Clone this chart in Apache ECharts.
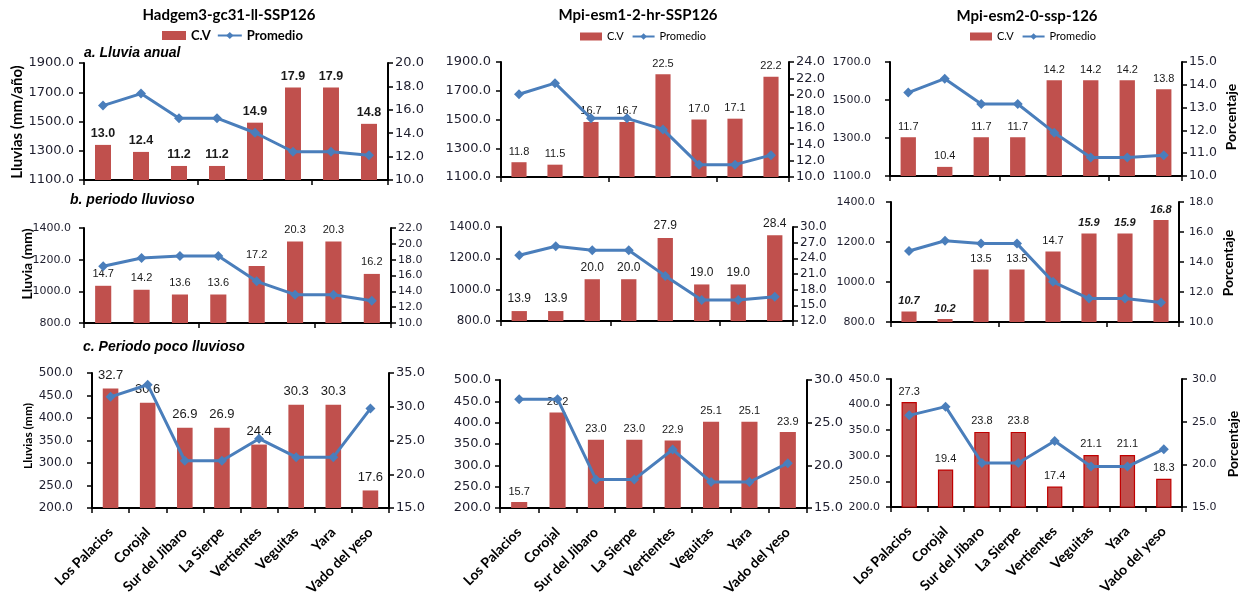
<!DOCTYPE html>
<html>
<head>
<meta charset="utf-8">
<script src="https://cdn.jsdelivr.net/npm/echarts@6/dist/echarts.min.js"></script>
<style>
  html, body { margin: 0; padding: 0; background: #fff; }
  #chart { width: 1241px; height: 604px; }
</style>
</head>
<body>
<div id="chart"></div>
<script>
// Stations shared by all nine panels
const estaciones = ['Los Palacios', 'Corojal', 'Sur del Jibaro', 'La Sierpe', 'Vertientes', 'Veguitas', 'Yara', 'Vado del yeso'];

// a. Lluvia anual
const cvAnualHadgem = [13.0, 12.4, 11.2, 11.2, 14.9, 17.9, 17.9, 14.8];
const promAnualHadgem = [1609, 1691, 1523, 1523, 1423, 1293, 1293, 1270];
const cvAnualMpi1 = [11.8, 11.5, 16.7, 16.7, 22.5, 17.0, 17.1, 22.2];
const promAnualMpi1 = [1676, 1753, 1508, 1508, 1431, 1186, 1186, 1252];
const cvAnualMpi2 = [11.7, 10.4, 11.7, 11.7, 14.2, 14.2, 14.2, 13.8];
const promAnualMpi2 = [1539, 1612, 1479, 1479, 1328, 1197, 1197, 1209];

// b. periodo lluvioso
const cvLluvHadgem = [14.7, 14.2, 13.6, 13.6, 17.2, 20.3, 20.3, 16.2];
const promLluvHadgem = [1158, 1211, 1223, 1223, 1063, 979, 979, 941];
const cvLluvMpi1 = [13.9, 13.9, 20.0, 20.0, 27.9, 19.0, 19.0, 28.4];
const promLluvMpi1 = [1220, 1277, 1252, 1252, 1088, 934, 934, 955];
const cvLluvMpi2 = [10.7, 10.2, 13.5, 13.5, 14.7, 15.9, 15.9, 16.8];
const promLluvMpi2 = [1155, 1206, 1192, 1192, 1001, 917, 917, 897];

// c. Periodo poco lluvioso
const cvSecoHadgem = [32.7, 30.6, 26.9, 26.9, 24.4, 30.3, 30.3, 17.6];
const promSecoHadgem = [447, 474, 305, 305, 354, 313, 313, 421];
const cvSecoMpi1 = [15.7, 26.2, 23.0, 23.0, 22.9, 25.1, 25.1, 23.9];
const promSecoMpi1 = [455, 455, 267, 267, 337, 261, 261, 305];
const cvSecoMpi2 = [27.3, 19.4, 23.8, 23.8, 17.4, 21.1, 21.1, 18.3];
const promSecoMpi2 = [379, 396, 286, 286, 329, 279, 279, 313];

// Axis tick values (left: mm, right: percent)
const ticksAnualL = [1100, 1300, 1500, 1700, 1900];
const ticksAnualMpi2L = [1100, 1300, 1500, 1700];
const ticksAnualHadgemR = [10, 12, 14, 16, 18, 20];
const ticksAnualMpi1R = [10, 12, 14, 16, 18, 20, 22, 24];
const ticksAnualMpi2R = [10, 11, 12, 13, 14, 15];
const ticksLluvL = [800, 1000, 1200, 1400];
const ticksLluvHadgemR = [10, 12, 14, 16, 18, 20, 22];
const ticksLluvMpi1R = [12, 15, 18, 21, 24, 27, 30];
const ticksLluvMpi2R = [10, 12, 14, 16, 18];
const ticksSecoL = [200, 250, 300, 350, 400, 450, 500];
const ticksSecoMpi2L = [200, 250, 300, 350, 400, 450];
const ticksSecoHadgemR = [15, 20, 25, 30, 35];
const ticksSecoR = [15, 20, 25, 30];

// Indices of value labels drawn in bold italic (panel b, Mpi-esm2)
const destacadosLluvMpi2 = [0, 1, 5, 6, 7];

const BAR = '#C0504D';
const LINE = '#4A7EBB';
const AXIS_TXT = '#1e1e2e';

const panels = [
  { grid: { left: 84, top: 63, width: 304, height: 117 }, cv: cvAnualHadgem, prom: promAnualHadgem,
    lt: ticksAnualL, rt: ticksAnualHadgemR, lf: 13, rf: 13, lm: 5, rm: 7, vf: 'bold', vs: 12.5, vd: 5 },
  { grid: { left: 501, top: 62, width: 288, height: 115 }, cv: cvAnualMpi1, prom: promAnualMpi1,
    lt: ticksAnualL, rt: ticksAnualMpi1R, lf: 13, rf: 13, lm: 5, rm: 7, vf: 'normal', vs: 11, vd: 5 },
  { grid: { left: 890, top: 62, width: 292, height: 114 }, cv: cvAnualMpi2, prom: promAnualMpi2,
    lt: ticksAnualMpi2L, rt: ticksAnualMpi2R, lf: 11, rf: 12.5, lm: 14, rm: 7, vf: 'normal', vs: 11, vd: 5 },
  { grid: { left: 84, top: 228, width: 307, height: 95 }, cv: cvLluvHadgem, prom: promLluvHadgem,
    lt: ticksLluvL, rt: ticksLluvHadgemR, lf: 11, rf: 11, lm: 8, rm: 7, vf: 'normal', vs: 11, vd: 6 },
  { grid: { left: 501, top: 227, width: 292, height: 94 }, cv: cvLluvMpi1, prom: promLluvMpi1,
    lt: ticksLluvL, rt: ticksLluvMpi1R, lf: 12, rf: 12, lm: 5, rm: 7, vf: 'normal', vs: 12, vd: 6 },
  { grid: { left: 891, top: 202, width: 288, height: 120 }, cv: cvLluvMpi2, prom: promLluvMpi2,
    lt: ticksLluvL, rt: ticksLluvMpi2R, lf: 11, rf: 11, lm: 11, rm: 10, vf: 'normal', vs: 11, vd: 5,
    destacados: destacadosLluvMpi2 },
  { grid: { left: 92, top: 373, width: 297, height: 135 }, cv: cvSecoHadgem, prom: promSecoHadgem,
    lt: ticksSecoL, rt: ticksSecoHadgemR, lf: 12, rf: 13, lm: 14, rm: 7, vf: 'normal', vs: 13, vd: 7, bottom: true },
  { grid: { left: 500, top: 380, width: 307, height: 128 }, cv: cvSecoMpi1, prom: promSecoMpi1,
    lt: ticksSecoL, rt: ticksSecoR, lf: 13, rf: 13, lm: 4, rm: 7, vf: 'normal', vs: 11, vd: 5, bottom: true },
  { grid: { left: 891, top: 379, width: 291, height: 128 }, cv: cvSecoMpi2, prom: promSecoMpi2,
    lt: ticksSecoMpi2L, rt: ticksSecoR, lf: 11, rf: 11, lm: 6, rm: 10, vf: 'normal', vs: 11, vd: 5, bottom: true,
    barBorder: '#C00000' }
];

const grids = [], xAxes = [], yAxes = [], series = [];

panels.forEach((p, i) => {
  grids.push(Object.assign({ containLabel: false }, p.grid));
  xAxes.push({
    type: 'category', gridIndex: i, data: estaciones, boundaryGap: true,
    axisLine: { show: true, lineStyle: { color: '#000', width: 2 } },
    axisTick: { show: true, length: 5, lineStyle: { color: '#000', width: 1.5 } },
    axisLabel: p.bottom ? {
      show: true, rotate: 45, margin: 22, interval: 0,
      fontFamily: 'Lato', fontWeight: 'bold', fontSize: 14, color: '#000'
    } : { show: false },
    splitLine: { show: false }
  });
  const lt = p.lt, rt = p.rt;
  yAxes.push({
    type: 'value', gridIndex: i, position: 'left',
    min: lt[0], max: lt[lt.length - 1],
    axisLine: { show: true, lineStyle: { color: '#000', width: 2 } },
    axisTick: { show: true, length: 5, customValues: lt, lineStyle: { color: '#000', width: 1.5 } },
    axisLabel: {
      customValues: lt, margin: p.lm + 5, fontFamily: 'DejaVu Sans', fontSize: p.lf, color: AXIS_TXT,
      formatter: v => Number(v).toFixed(1)
    },
    splitLine: { show: false }
  });
  yAxes.push({
    type: 'value', gridIndex: i, position: 'right',
    min: rt[0], max: rt[rt.length - 1],
    axisLine: { show: true, lineStyle: { color: '#000', width: 2 } },
    axisTick: { show: true, length: 5, customValues: rt, lineStyle: { color: '#000', width: 1.5 } },
    axisLabel: {
      customValues: rt, margin: p.rm, fontFamily: 'DejaVu Sans', fontSize: p.rf, color: AXIS_TXT,
      formatter: v => Number(v).toFixed(1)
    },
    splitLine: { show: false }
  });

  const dest = p.destacados || [];
  series.push({
    name: 'C.V', type: 'bar', xAxisIndex: i, yAxisIndex: 2 * i + 1,
    barWidth: '42%',
    itemStyle: p.barBorder ? { color: BAR, borderColor: p.barBorder, borderWidth: 1.2 } : { color: BAR },
    label: {
      show: true, position: 'top', distance: p.vd,
      fontFamily: 'Liberation Sans', fontSize: p.vs, fontWeight: p.vf, color: '#1a1a1a',
      formatter: q => Number(q.value).toFixed(1)
    },
    data: p.cv.map((v, k) => dest.includes(k)
      ? { value: v, label: { fontWeight: 'bold', fontStyle: 'italic' } }
      : v),
    z: 2
  });
  series.push({
    name: 'Promedio', type: 'line', xAxisIndex: i, yAxisIndex: 2 * i,
    symbol: 'diamond', symbolSize: 10,
    lineStyle: { color: LINE, width: 3 },
    itemStyle: { color: LINE },
    data: p.prom,
    z: 3
  });
});

const legendData = [{ name: 'C.V', icon: 'rect' }, { name: 'Promedio' }];
const legends = [
  { left: 162, top: 29, itemWidth: 24, itemHeight: 9, itemGap: 6,
    textStyle: { fontFamily: 'Lato', fontWeight: 'bold', fontSize: 13, color: '#000' } },
  { left: 580, top: 31, itemWidth: 22, itemHeight: 8, itemGap: 8,
    textStyle: { fontFamily: 'Lato', fontSize: 11, color: '#000' } },
  { left: 970, top: 31, itemWidth: 22, itemHeight: 8, itemGap: 8,
    textStyle: { fontFamily: 'Lato', fontSize: 11, color: '#000' } }
].map(l => Object.assign({ data: legendData, selectedMode: false, padding: 0, orient: 'horizontal' }, l));

function txt(x, y, text, font, opts) {
  return Object.assign({
    type: 'text', x: x, y: y,
    style: { text: text, font: font, fill: '#000', align: 'left', verticalAlign: 'middle' }
  }, opts || {});
}
function vtxt(x, y, text, font) {
  return {
    type: 'text', x: x, y: y, rotation: Math.PI / 2,
    style: { text: text, font: font, fill: '#000', align: 'center', verticalAlign: 'middle' }
  };
}

const graphics = [
  // model titles
  { type: 'text', x: 229, y: 15, style: { text: 'Hadgem3-gc31-ll-SSP126', font: 'bold 15px Lato', fill: '#000', align: 'center', verticalAlign: 'middle' } },
  { type: 'text', x: 638, y: 15, style: { text: 'Mpi-esm1-2-hr-SSP126', font: 'bold 15px Lato', fill: '#000', align: 'center', verticalAlign: 'middle' } },
  { type: 'text', x: 1027, y: 16, style: { text: 'Mpi-esm2-0-ssp-126', font: 'bold 15px Lato', fill: '#000', align: 'center', verticalAlign: 'middle' } },
  // period subtitles
  txt(84, 53, 'a. Lluvia anual', 'italic bold 14px "Liberation Sans"'),
  txt(70, 200, 'b. periodo lluvioso', 'italic bold 14px "Liberation Sans"'),
  txt(83, 347, 'c. Periodo poco lluvioso', 'italic bold 14px "Liberation Sans"'),
  // axis titles
  vtxt(17, 122, 'Lluvias (mm/año)', 'bold 15px Lato'),
  vtxt(27, 264, 'Lluvia (mm)', 'bold 14px Lato'),
  vtxt(28, 436, 'Lluvias (mm)', 'bold 12px Lato'),
  vtxt(1231, 117, 'Porcentaje', 'bold 14px Lato'),
  vtxt(1228, 263, 'Porcentaje', 'bold 14px Lato'),
  vtxt(1233, 444, 'Porcentaje', 'bold 14px Lato')
];

const chart = echarts.init(document.getElementById('chart'), null, { renderer: 'canvas' });
chart.setOption({
  animation: false,
  backgroundColor: '#fff',
  grid: grids,
  xAxis: xAxes,
  yAxis: yAxes,
  legend: legends,
  graphic: graphics,
  series: series
});
</script>
</body>
</html>
